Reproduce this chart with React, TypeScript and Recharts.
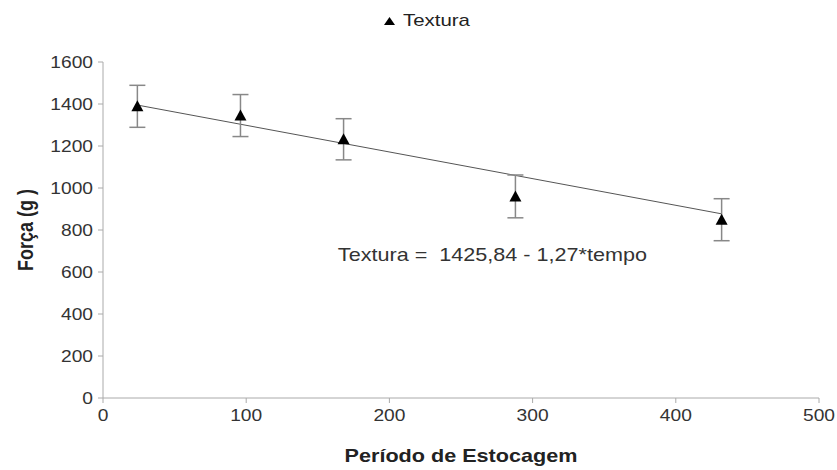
import React from "react";
import { ComposedChart, Scatter, Line, XAxis, YAxis, ErrorBar, Legend, ReferenceDot } from "recharts";

// storage period (hours) and texture force (g)
const tempo = [24, 96, 168, 288, 432];
const forca = [1389, 1345, 1232, 960, 849];
const desvio = [100, 100, 98, 102, 100];

// fitted line endpoints: Textura = 1425,84 - 1,27*tempo
const retaTempo = [24, 432];
const retaForca = [1395, 877];

const xTicks = [0, 100, 200, 300, 400, 500];
const yTicks = [0, 200, 400, 600, 800, 1000, 1200, 1400, 1600];

const pontos = tempo.map((t, i) => ({ x: t, y: forca[i], err: desvio[i] }));
const reta = retaTempo.map((t, i) => ({ x: t, y: retaForca[i] }));

const font = "'Liberation Sans', Arial, sans-serif";
// the source picture is a bit wider than tall, text looks stretched sideways
const SX = 1.2;

const Triangulo = (props: any) => {
  const { cx, cy } = props;
  if (cx == null || cy == null) return null;
  return <polygon points={`${cx},${cy - 6} ${cx - 6},${cy + 5} ${cx + 6},${cy + 5}`} fill="#000" />;
};

const TickX = (props: any) => {
  const { x, y, payload } = props;
  return (
    <g transform={`translate(${x},${y})`}>
      <text transform={`scale(${SX},1)`} textAnchor="middle" dy="0.71em" fontFamily={font} fontSize={16} fill="#333">
        {payload.value}
      </text>
    </g>
  );
};

const TickY = (props: any) => {
  const { x, y, payload } = props;
  return (
    <g transform={`translate(${x},${y})`}>
      <text transform={`scale(${SX},1)`} textAnchor="end" dy="0.355em" fontFamily={font} fontSize={16} fill="#333">
        {payload.value}
      </text>
    </g>
  );
};

const TituloX = (props: any) => {
  const { viewBox } = props;
  if (!viewBox) return null;
  return (
    <g transform={`translate(${viewBox.x + viewBox.width / 2},${viewBox.y + 58})`}>
      <text transform={`scale(${SX},1)`} textAnchor="middle" dy="0.35em" fontFamily={font} fontSize={18} fontWeight="bold" fill="#222">
        Período de Estocagem
      </text>
    </g>
  );
};

const TituloY = (props: any) => {
  const { viewBox } = props;
  if (!viewBox) return null;
  return (
    <g transform={`translate(25,${viewBox.y + viewBox.height / 2}) scale(${SX},1) rotate(-90)`}>
      <text textAnchor="middle" dy="0.35em" fontFamily={font} fontSize={18} fontWeight="bold" fill="#222">
        Força (g )
      </text>
    </g>
  );
};

const LegendaTopo = () => (
  <div style={{ height: 54, position: "relative", fontFamily: font, fontSize: 17, color: "#222" }}>
    <div style={{ position: "absolute", left: 384, top: 3, display: "flex", alignItems: "center" }}>
      <svg width={11} height={10} style={{ marginRight: 8 }}>
        <polygon points="5.5,1 0,9 11,9" fill="#000" />
      </svg>
      <span style={{ display: "inline-block", transform: `scaleX(${SX})`, transformOrigin: "left center" }}>Textura</span>
    </div>
  </div>
);

const Equacao = (props: any) => {
  const { viewBox } = props;
  if (!viewBox) return null;
  return (
    <g transform={`translate(${viewBox.x},${viewBox.y})`}>
      <text transform={`scale(${SX},1)`} dy="0.35em" textAnchor="start" fontFamily={font} fontSize={18} fill="#333">
        {"Textura =\u00a0 1425,84 - 1,27*tempo"}
      </text>
    </g>
  );
};

export default function App() {
  return (
    <div style={{ position: "absolute", left: 0, top: 0, background: "#fff" }}>
      <ComposedChart width={837} height={470} margin={{ top: 8, right: 18, bottom: 0, left: 0 }}>
        <Legend verticalAlign="top" content={<LegendaTopo />} />
        <XAxis
          dataKey="x"
          type="number"
          domain={[0, 500]}
          ticks={xTicks}
          height={72}
          stroke="#aaa"
          tickSize={5}
          tickMargin={7}
          tick={<TickX />}
          label={<TituloX />}
        />
        <YAxis
          dataKey="y"
          type="number"
          domain={[0, 1600]}
          ticks={yTicks}
          width={103}
          stroke="#aaa"
          tickSize={5}
          tickMargin={5}
          tick={<TickY />}
          label={<TituloY />}
        />
        <Line data={reta} dataKey="y" stroke="#555" strokeWidth={1} dot={false} isAnimationActive={false} legendType="none" />
        <Scatter data={pontos} dataKey="y" shape={<Triangulo />} isAnimationActive={false} name="Textura">
          <ErrorBar dataKey="err" direction="y" width={8} stroke="#888" strokeWidth={1.5} />
        </Scatter>
        <ReferenceDot x={164} y={684} r={0} label={<Equacao />} />
      </ComposedChart>
    </div>
  );
}
